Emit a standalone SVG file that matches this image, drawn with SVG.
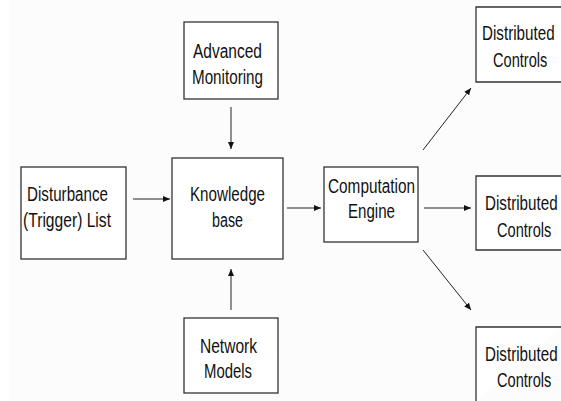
<svg xmlns="http://www.w3.org/2000/svg" width="561" height="401" viewBox="0 0 561 401">
<defs>
<style>
.box{fill:#fff;stroke:#333;stroke-width:1.3}
.t{font-family:"Liberation Sans",Arial,sans-serif;font-size:20px;fill:#111}
.c{stroke:#222;stroke-width:1;fill:none;marker-end:url(#ah)}
</style>
<marker id="ah" markerUnits="userSpaceOnUse" markerWidth="8" markerHeight="8" refX="7" refY="3" orient="auto">
<path d="M0,0 L7,3 L0,6 Z" fill="#111"/>
</marker>
</defs>
<rect x="0" y="0" width="561" height="401" fill="#fff"/>
<rect x="9" y="0" width="552" height="401" fill="#fcfcfc"/>
<g id="connectors">
<line class="c" x1="231" y1="107" x2="231" y2="149"/>
<line class="c" x1="231" y1="310" x2="231" y2="269"/>
<line class="c" x1="133" y1="199" x2="170" y2="199"/>
<line class="c" x1="287" y1="208" x2="321" y2="208"/>
<line class="c" x1="423" y1="150" x2="471" y2="88"/>
<line class="c" x1="424" y1="208" x2="471" y2="208"/>
<line class="c" x1="423" y1="250" x2="471" y2="310"/>
</g>
<g id="advanced-monitoring">
<rect class="box" x="184" y="22" width="94" height="77"/>
<text class="t" x="193" y="58" textLength="69" lengthAdjust="spacingAndGlyphs">Advanced</text>
<text class="t" x="192" y="84" textLength="71" lengthAdjust="spacingAndGlyphs">Monitoring</text>
</g>
<g id="knowledge-base">
<rect class="box" x="172" y="158" width="111" height="101"/>
<text class="t" x="190" y="201" textLength="75" lengthAdjust="spacingAndGlyphs">Knowledge</text>
<text class="t" x="212" y="227" textLength="31" lengthAdjust="spacingAndGlyphs">base</text>
</g>
<g id="disturbance-list">
<rect class="box" x="21" y="167" width="105" height="92"/>
<text class="t" x="27" y="201" textLength="81" lengthAdjust="spacingAndGlyphs">Disturbance</text>
<text class="t" x="23" y="227" textLength="88" lengthAdjust="spacingAndGlyphs">(Trigger) List</text>
</g>
<g id="network-models">
<rect class="box" x="184" y="318" width="94" height="75"/>
<text class="t" x="200" y="353" textLength="57" lengthAdjust="spacingAndGlyphs">Network</text>
<text class="t" x="204" y="378" textLength="48" lengthAdjust="spacingAndGlyphs">Models</text>
</g>
<g id="computation-engine">
<rect class="box" x="324" y="167" width="94" height="75"/>
<text class="t" x="328" y="193" textLength="87" lengthAdjust="spacingAndGlyphs">Computation</text>
<text class="t" x="348" y="218" textLength="47" lengthAdjust="spacingAndGlyphs">Engine</text>
</g>
<g id="distributed-controls-1">
<path class="box" d="M561,7 H476 V82 H561"/>
<text class="t" transform="translate(482,40) scale(0.76,1)">Distributed</text>
<text class="t" transform="translate(493,67) scale(0.73,1)">Controls</text>
</g>
<g id="distributed-controls-2">
<path class="box" d="M561,176 H476 V250 H561"/>
<text class="t" transform="translate(485,210) scale(0.76,1)">Distributed</text>
<text class="t" transform="translate(497,237) scale(0.73,1)">Controls</text>
</g>
<g id="distributed-controls-3">
<path class="box" d="M561,327 H476 V401"/>
<text class="t" transform="translate(485,361) scale(0.76,1)">Distributed</text>
<text class="t" transform="translate(497,387) scale(0.73,1)">Controls</text>
</g>
</svg>
